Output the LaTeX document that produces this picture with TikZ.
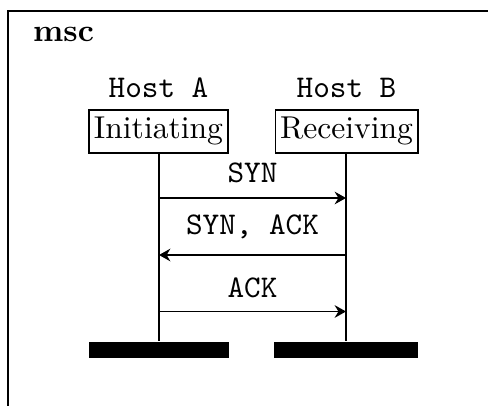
\documentclass[tikz,border=0pt]{standalone}
\usetikzlibrary{arrows.meta}
\begin{document}
\begin{tikzpicture}[x=0.3165pt,y=-0.3165pt,
  frameline/.style={line width=0.7pt},
  lifeline/.style={line width=0.7pt},
  msgarrow/.style={-{Stealth[length=3.6pt,width=4pt,inset=1.2pt]},line width=0.55pt},
  instbox/.style={draw,line width=0.5pt,inner xsep=1.5pt,inner ysep=2.4pt,anchor=north,font=\normalsize},
  hostlabel/.style={anchor=base,font=\ttfamily},
  msglabel/.style={anchor=base,font=\ttfamily},
  endbar/.style={fill=black,inner sep=0pt,minimum height=5.06pt,anchor=north}]
\useasboundingbox (0,0) rectangle (488,405);
\clip (0,0) rectangle (488,405);
% frame
\draw[frameline] (8,430) -- (8,11) -- (500,11);
\node[anchor=base west,font=\bfseries] (title) at (22,41.5) {msc};
% instances
\node[hostlabel] (hA) at (158.5,98) {Host A};
\node[hostlabel] (hB) at (346.5,98) {Host B};
\node[instbox] (A) at (158.5,109) {Initiating};
\node[instbox] (B) at (346.5,109) {Receiving};
\node[endbar,minimum width=140*0.3165pt] (eA) at (159,341) {};
\node[endbar,minimum width=144*0.3165pt] (eB) at (346,341) {};
\draw[lifeline] (A.south -| eA.north) -- (eA.north);
\draw[lifeline] (B.south -| eB.north) -- (eB.north);
% messages
\coordinate (a1) at (159,198);
\coordinate (b1) at (346,198);
\coordinate (a2) at (159,255);
\coordinate (b2) at (346,255);
\coordinate (a3) at (159,311.5);
\coordinate (b3) at (346,311.5);
\draw[msgarrow] (a1) -- (b1);
\draw[msgarrow] (b2) -- (a2);
\draw[msgarrow] (a3) -- (b3);
\node[msglabel] (l1) at (252.5,183) {SYN};
\node[msglabel] (l2) at (252.5,235) {SYN, ACK};
\node[msglabel] (l3) at (252.5,297) {ACK};
\end{tikzpicture}
\end{document}
